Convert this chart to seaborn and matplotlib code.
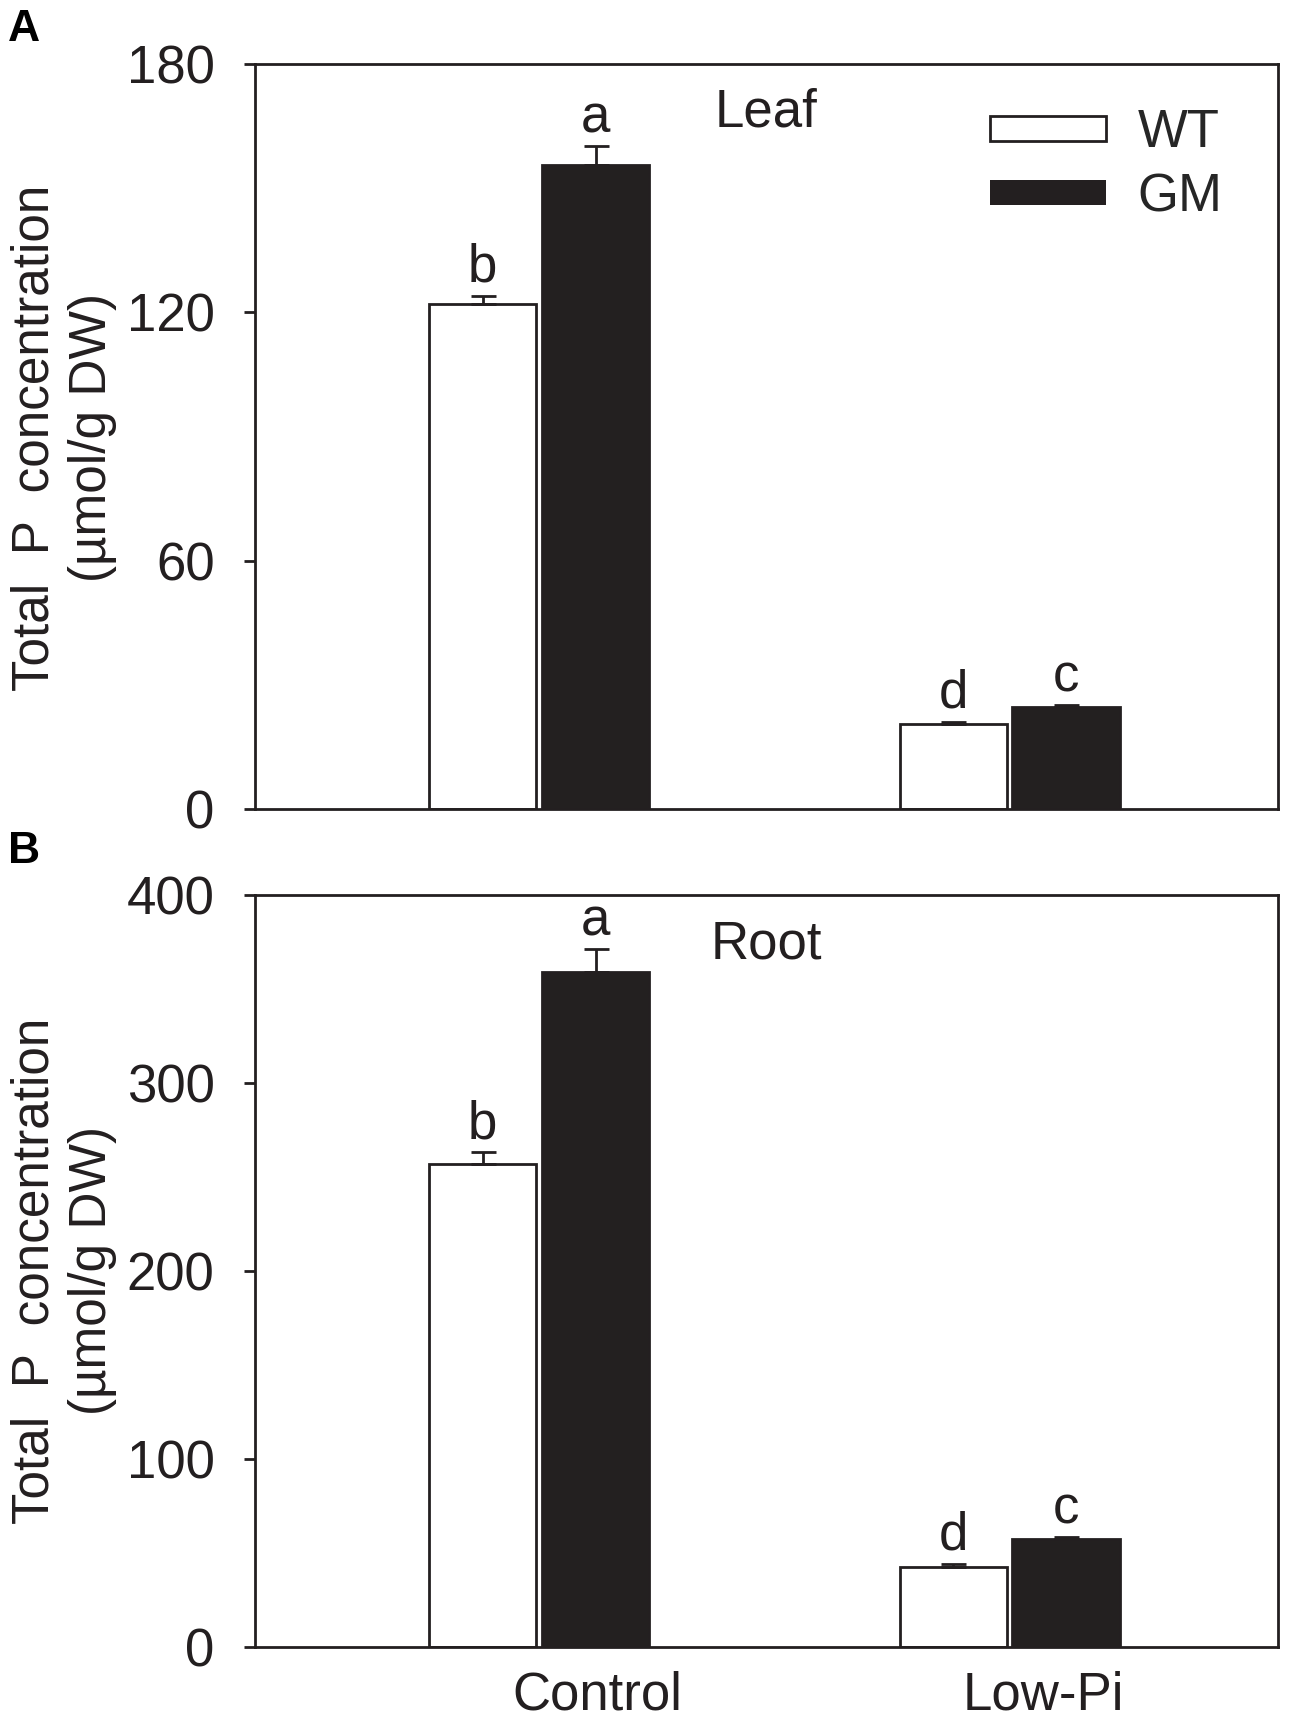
import matplotlib
matplotlib.use("Agg")
import matplotlib.pyplot as plt
import matplotlib.transforms as mtransforms
import seaborn as sns
import pandas as pd
import numpy as np
from matplotlib.patches import Patch

conditions = ["Control", "Low-Pi"]
genotypes = ["WT", "GM"]

leaf_wt = [122.0, 20.6]
leaf_gm = [155.5, 24.6]
leaf_wt_err = [2.0, 0.6]
leaf_gm_err = [4.6, 0.6]
leaf_wt_letters = ["b", "d"]
leaf_gm_letters = ["a", "c"]

root_wt = [257.0, 42.6]
root_gm = [359.5, 57.2]
root_wt_err = [6.4, 1.8]
root_gm_err = [11.8, 1.3]
root_wt_letters = ["b", "d"]
root_gm_letters = ["a", "c"]

leaf_ticks = [0, 60, 120, 180]
root_ticks = [0, 100, 200, 300, 400]

BLACK = "#231f20"
FS = 38

sns.set_theme(style="white")
plt.rcParams["font.family"] = ["Liberation Sans", "DejaVu Sans"]
plt.rcParams["axes.linewidth"] = 2.0

fig = plt.figure(figsize=(13, 17.22), dpi=100)
axA = fig.add_axes([0.196, 0.530, 0.787, 0.433])
axB = fig.add_axes([0.196, 0.0436, 0.787, 0.4364])


def make_df(wt, gm):
    rows = []
    for c, v in zip(conditions, wt):
        rows.append({"cond": c, "geno": "WT", "val": v})
    for c, v in zip(conditions, gm):
        rows.append({"cond": c, "geno": "GM", "val": v})
    return pd.DataFrame(rows)


def draw(ax, wt, gm, wt_err, gm_err, wt_let, gm_let, ticks, title):
    df = make_df(wt, gm)
    sns.barplot(data=df, x="cond", y="val", hue="geno", order=conditions,
                hue_order=genotypes, palette={"WT": "white", "GM": BLACK},
                edgecolor=BLACK, linewidth=2, width=0.48, gap=0.05,
                errorbar=None, legend=False, ax=ax)
    for cont, errs, lets in zip(ax.containers, [wt_err, gm_err], [wt_let, gm_let]):
        xs = [p.get_x() + p.get_width() / 2 for p in cont.patches]
        hs = [p.get_height() for p in cont.patches]
        ax.errorbar(xs, hs, yerr=[np.zeros(len(errs)), errs], fmt="none",
                    ecolor=BLACK, elinewidth=2, capsize=9, capthick=2, zorder=5)
        for x, h, e, l in zip(xs, hs, errs, lets):
            ax.annotate(l, (x, h + e), xytext=(0, 2), textcoords="offset points",
                        ha="center", va="bottom", fontsize=FS, color=BLACK)
    ax.set_xlim(-0.604, 1.570)
    ax.set_ylim(ticks[0], ticks[-1])
    ax.set_yticks(ticks)
    ax.set_yticklabels([str(t) for t in ticks])
    ax.tick_params(axis="y", direction="out", length=8, width=2, pad=21,
                   labelsize=FS, left=True, colors=BLACK, labelcolor=BLACK)
    ax.tick_params(axis="x", length=0, labelsize=FS, pad=17, labelcolor=BLACK)
    ax.set_xlabel("")
    ax.set_ylabel("")
    for s in ax.spines.values():
        s.set_color(BLACK)
        s.set_linewidth(2)
        s.set_visible(True)
    ax.text(0.5, 0.935, title, transform=ax.transAxes, ha="center", va="center",
            fontsize=FS, color=BLACK)


draw(axA, leaf_wt, leaf_gm, leaf_wt_err, leaf_gm_err, leaf_wt_letters,
     leaf_gm_letters, leaf_ticks, "Leaf")
draw(axB, root_wt, root_gm, root_wt_err, root_gm_err, root_wt_letters,
     root_gm_letters, root_ticks, "Root")
axA.set_xticklabels([])

# x tick labels sit to the right of group centres in the original
for lab, shift_pt in zip(axB.get_xticklabels(), [42, 24]):
    offset = mtransforms.ScaledTranslation(shift_pt / 72, 0, fig.dpi_scale_trans)
    lab.set_transform(lab.get_transform() + offset)

handles = [Patch(facecolor="white", edgecolor=BLACK, linewidth=2, label="WT"),
           Patch(facecolor=BLACK, edgecolor=BLACK, linewidth=0, label="GM")]
axA.legend(handles=handles, loc="upper right", bbox_to_anchor=(0.946, 0.94),
           frameon=False, fontsize=FS, handlelength=2.2, handleheight=0.36,
           handletextpad=0.6, labelspacing=0.27, borderaxespad=0, borderpad=0)

ylab = "Total  P  concentration\n(µmol/g DW)"
fig.text(0.049, 0.746, ylab, rotation=90, ha="center", va="center",
         fontsize=37, color=BLACK, multialignment="center", linespacing=1.22)
fig.text(0.049, 0.262, ylab, rotation=90, ha="center", va="center",
         fontsize=37, color=BLACK, multialignment="center", linespacing=1.22)

fig.text(0.006, 0.995, "A", ha="left", va="top", fontsize=32, fontweight="bold",
         color="black")
fig.text(0.006, 0.5175, "B", ha="left", va="top", fontsize=32, fontweight="bold",
         color="black")

fig.savefig("out.png", dpi=100, facecolor="white")
